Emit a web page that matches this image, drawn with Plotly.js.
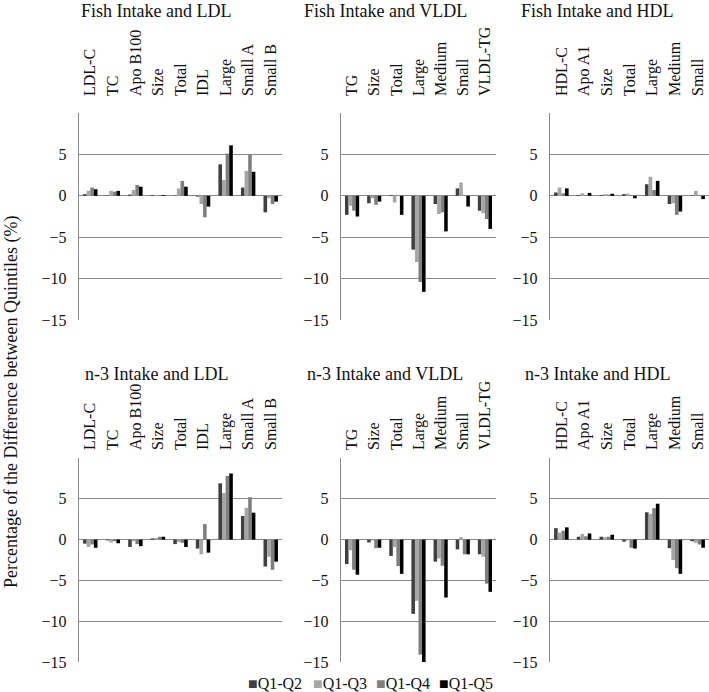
<!DOCTYPE html>
<html>
<head>
<meta charset="utf-8">
<script src="https://cdn.plot.ly/plotly-3.0.1.min.js"></script>
<style>html,body{margin:0;padding:0;background:#fff;}#chart{width:709px;height:692px;}</style>
</head>
<body>
<div id="chart"></div>
<script>
// Categories
const ldlCats = ['LDL-C','TC','Apo B100','Size','Total','IDL','Large','Small A','Small B'];
const vldlCats = ['TG','Size','Total','Large','Medium','Small','VLDL-TG'];
const hdlCats = ['HDL-C','Apo A1','Size','Total','Large','Medium','Small'];
const seriesNames = ['Q1-Q2','Q1-Q3','Q1-Q4','Q1-Q5'];
const panelTitles = ['Fish Intake and LDL','Fish Intake and VLDL','Fish Intake and HDL',
                     'n-3 Intake and LDL','n-3 Intake and VLDL','n-3 Intake and HDL'];
const yTickVals = [-15,-10,-5,0,5];

// Fish intake, LDL
const fishLDL_Q2 = [0.2, 0.05, 0.15, 0.1, 0.05, -0.1, 3.8, 1.0, -2.0];
const fishLDL_Q3 = [0.6, 0.6, 0.7, 0.05, 0.9, -1.0, 1.9, 3.0, -0.3];
const fishLDL_Q4 = [1.0, 0.5, 1.3, 0.1, 1.8, -2.6, 5.1, 5.0, -1.0];
const fishLDL_Q5 = [0.8, 0.6, 1.1, 0.1, 1.1, -1.3, 6.1, 2.9, -0.7];
// Fish intake, VLDL
const fishVLDL_Q2 = [-2.3, -0.9, 0.1, -6.5, -1.0, 0.9, -1.8];
const fishVLDL_Q3 = [-1.2, -0.3, -0.8, -8.0, -2.2, 1.6, -2.1];
const fishVLDL_Q4 = [-1.8, -1.1, 0.0, -10.4, -2.0, 0.1, -2.8];
const fishVLDL_Q5 = [-2.5, -0.7, -2.3, -11.6, -4.3, -1.3, -4.0];
// Fish intake, HDL
const fishHDL_Q2 = [0.4, 0.1, 0.1, 0.2, 1.4, -1.0, 0.05];
const fishHDL_Q3 = [1.0, 0.3, 0.2, 0.25, 2.3, -0.9, 0.6];
const fishHDL_Q4 = [0.3, 0.1, 0.15, 0.1, 0.7, -2.3, 0.1];
const fishHDL_Q5 = [0.9, 0.35, 0.25, -0.3, 1.8, -1.9, -0.4];
// n-3 intake, LDL
const n3LDL_Q2 = [-0.5, -0.1, -0.9, 0.15, -0.55, -1.1, 6.9, 2.9, -3.3];
const n3LDL_Q3 = [-0.9, -0.35, -0.2, 0.2, -0.3, -1.8, 5.7, 3.9, -2.1];
const n3LDL_Q4 = [-0.6, -0.2, -0.55, 0.35, -0.4, 1.9, 7.8, 5.2, -3.7];
const n3LDL_Q5 = [-1.0, -0.45, -0.8, 0.35, -0.9, -1.6, 8.1, 3.3, -2.7];
// n-3 intake, VLDL
const n3VLDL_Q2 = [-3.0, -0.35, -2.0, -9.1, -2.7, -1.2, -1.8];
const n3VLDL_Q3 = [-1.3, -0.1, -0.9, -7.5, -2.3, 0.3, -2.1];
const n3VLDL_Q4 = [-3.7, -1.05, -3.25, -14.1, -3.2, -1.8, -5.4];
const n3VLDL_Q5 = [-4.3, -1.0, -4.2, -15.0, -7.1, -1.8, -6.4];
// n-3 intake, HDL
const n3HDL_Q2 = [1.4, 0.35, 0.35, -0.25, 3.35, -1.05, -0.2];
const n3HDL_Q3 = [0.85, 0.7, 0.3, -0.1, 3.15, -2.5, -0.4];
const n3HDL_Q4 = [1.1, 0.4, 0.35, -1.0, 3.85, -3.5, -0.6];
const n3HDL_Q5 = [1.5, 0.75, 0.6, -1.1, 4.4, -4.2, -1.0];

const W = 709, H = 692;
const colors = ['#404040','#a6a6a6','#7f7f7f','#000000'];
const serif = 'Liberation Serif, Times New Roman, serif';
const gridCol = '#8a8a8a';
const txtCol = '#111111';

const panels = [
  {cats: ldlCats,  s: [fishLDL_Q2, fishLDL_Q3, fishLDL_Q4, fishLDL_Q5]},
  {cats: vldlCats, s: [fishVLDL_Q2, fishVLDL_Q3, fishVLDL_Q4, fishVLDL_Q5]},
  {cats: hdlCats,  s: [fishHDL_Q2, fishHDL_Q3, fishHDL_Q4, fishHDL_Q5]},
  {cats: ldlCats,  s: [n3LDL_Q2, n3LDL_Q3, n3LDL_Q4, n3LDL_Q5]},
  {cats: vldlCats, s: [n3VLDL_Q2, n3VLDL_Q3, n3VLDL_Q4, n3VLDL_Q5]},
  {cats: hdlCats,  s: [n3HDL_Q2, n3HDL_Q3, n3HDL_Q4, n3HDL_Q5]}
];

// pixel layout
const colX = [[79, 282], [341, 496], [550, 709]];
const rowY = [[113, 320], [458, 662]];
const titleX = [156, 385, 597];
const titleY = [11, 374];
const labelStandoff = [16, 7];
const legendX = [246, 311, 374, 437];
const legendY = 683;

const data = [];
const layout = {
  width: W, height: H,
  margin: {l: 0, r: 0, t: 0, b: 0},
  paper_bgcolor: '#fff', plot_bgcolor: '#fff',
  barmode: 'group', bargap: 0.36, bargroupgap: 0,
  font: {family: serif, size: 15, color: txtCol},
  showlegend: false,
  annotations: []
};

panels.forEach((p, i) => {
  const r = Math.floor(i / 3), c = i % 3;
  const k = i + 1;
  const xa = 'x' + (k === 1 ? '' : k), ya = 'y' + (k === 1 ? '' : k);
  p.s.forEach((vals, j) => {
    data.push({
      type: 'bar', x: p.cats, y: vals, xaxis: xa, yaxis: ya,
      name: seriesNames[j], legendgroup: seriesNames[j], showlegend: false,
      marker: {color: colors[j], line: {width: 0}},
      hoverinfo: 'skip'
    });
  });
  const xKey = 'xaxis' + (k === 1 ? '' : k), yKey = 'yaxis' + (k === 1 ? '' : k);
  layout[xKey] = {
    domain: [colX[c][0] / W, colX[c][1] / W],
    anchor: ya, side: 'top', type: 'category',
    showline: false, showgrid: false, zeroline: false,
    ticks: '', tickangle: -90, ticklabelstandoff: labelStandoff[r],
    tickfont: {family: serif, size: 16, color: txtCol},
    fixedrange: true
  };
  layout[yKey] = {
    domain: [1 - rowY[r][1] / H, 1 - rowY[r][0] / H],
    anchor: xa, range: [-15, 10], tickvals: yTickVals,
    showline: true, linecolor: gridCol, linewidth: 1.3,
    showgrid: true, gridcolor: gridCol, gridwidth: 1.3,
    zeroline: true, zerolinecolor: gridCol, zerolinewidth: 1.3,
    ticks: '', ticklabelstandoff: 8,
    tickfont: {family: serif, size: 16, color: txtCol},
    fixedrange: true
  };
  layout.annotations.push({
    text: panelTitles[i], xref: 'paper', yref: 'paper',
    x: titleX[c] / W, y: 1 - titleY[r] / H, xanchor: 'center', yanchor: 'middle',
    showarrow: false, font: {family: serif, size: 18, color: txtCol}
  });
});

// legend entries (coloured square + series name)
seriesNames.forEach((nm, j) => {
  layout.annotations.push({
    text: '<span style="color:' + colors[j] + '">■</span>' + nm,
    xref: 'paper', yref: 'paper', x: legendX[j] / W, y: 1 - legendY / H,
    xanchor: 'left', yanchor: 'middle', showarrow: false,
    font: {family: serif, size: 16, color: txtCol}
  });
});

layout.annotations.push({
  text: 'Percentage of the Difference between Quintiles (%)',
  xref: 'paper', yref: 'paper', x: 11 / W, y: 1 - 402 / H,
  xanchor: 'center', yanchor: 'middle', textangle: -90, showarrow: false,
  font: {family: serif, size: 18, color: txtCol}
});

Plotly.newPlot('chart', data, layout, {displayModeBar: false, staticPlot: true});
</script>
</body>
</html>
